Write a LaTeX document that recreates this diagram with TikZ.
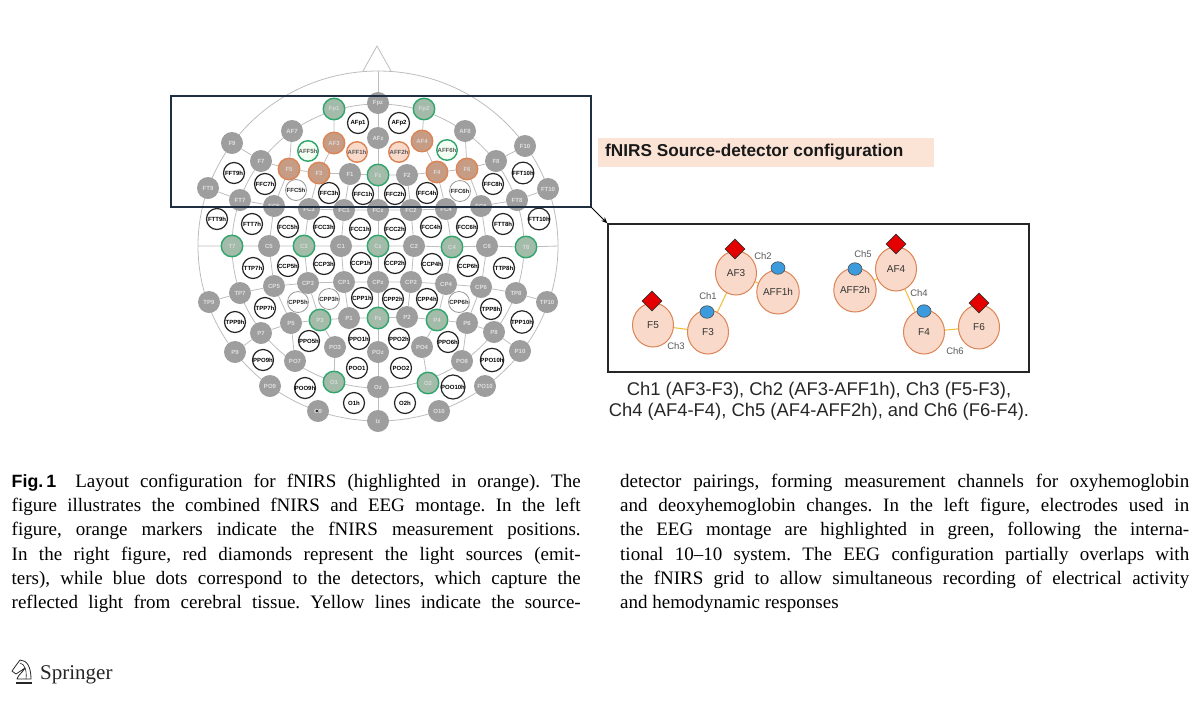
\documentclass[tikz,border=0pt]{standalone}
\usepackage{fontspec}
\setmainfont{Liberation Serif}
\setsansfont{Liberation Sans}
\usetikzlibrary{arrows.meta,backgrounds,shapes.geometric}

\definecolor{gridgray}{HTML}{BDBDBD}
\definecolor{elecgray}{HTML}{9E9E9E}
\definecolor{eegring}{HTML}{2FA56C}
\definecolor{eegfill}{HTML}{A3BBA9}
\definecolor{nirsring}{HTML}{DB8455}
\definecolor{nirsfill}{HTML}{C79C84}
\definecolor{peach}{HTML}{F9D9C9}
\definecolor{peachbar}{HTML}{FBE3D6}
\definecolor{yellowch}{HTML}{EFC13F}
\definecolor{bluedet}{HTML}{3B9BDD}
\definecolor{navybox}{HTML}{1F2F40}

\tikzset{
  elec/.style={circle, inner sep=0pt, minimum size=22pt, font=\sffamily\bfseries\fontsize{6}{7}\selectfont},
  grayelec/.style={elec, fill=elecgray, text=white!88!black},
  ringelec/.style={elec, draw=black!85, line width=1.2pt, fill=white, minimum size=21pt, text=black},
  thinelec/.style={elec, draw=black!40, line width=.8pt, fill=white, minimum size=21pt, text=black!85},
  greenelec/.style={elec, draw=eegring, line width=1.4pt, fill=eegfill, minimum size=21.5pt, text=white!85!black},
  palegreen/.style={elec, draw=eegring, line width=1.4pt, fill=green!5, minimum size=20.5pt, text=black!65},
  nirselec/.style={elec, draw=nirsring, line width=1.4pt, fill=nirsfill, minimum size=21.5pt, text=white!85!black},
  paleorange/.style={elec, draw=nirsring, line width=1.4pt, fill=peach, minimum size=20.5pt, text=black!65},
  gridline/.style={draw=gridgray, line width=.8pt},
  optode/.style={ellipse, draw=nirsring, line width=1pt, fill=peach, inner sep=0pt, minimum width=41pt, minimum height=44pt, text=black!80, font=\sffamily\fontsize{10}{12}\selectfont},
  source/.style={diamond, draw=black!80, line width=.6pt, fill=red!90!black, inner sep=0pt, minimum size=20pt},
  detector/.style={ellipse, draw=black!70, line width=.6pt, fill=bluedet, inner sep=0pt, minimum width=14pt, minimum height=12.5pt},
  chline/.style={draw=yellowch, line width=1.1pt},
  chlabel/.style={text=black!65, inner sep=0pt, font=\sffamily\fontsize{9.5}{11}\selectfont},
  capcol/.style={anchor=north west, align=left, inner sep=0pt, font=\fontsize{19}{24.2}\selectfont}
}
\newcommand{\jline}[1]{\makebox[569pt][s]{#1}}
\frenchspacing

\begin{document}
\begin{tikzpicture}[x=1pt, y=-1pt]
  \useasboundingbox (0,0) rectangle (1200,721);

  \foreach \n/\x/\y in {Fpz/378/103, AF7/292/131, AFz/378/138, F9/232/143, F7/261/161, F1/350/174,
    FT9/208/188, FT7/240/200, FC5/274/206, FC3/309/209, FC1/344/210, FCz/378/210,
    AF8/465/131, F10/525/146, F8/496/161, F2/407/175, FT10/548/189, FT8/517/200,
    FC6/481/206, FC4/446/209, FC2/411/210, C5/269/246, C1/341/246, C2/414/246, C6/487/246,
    CP5/274/286, CP3/308/283, CP1/344/282, CPz/378/282, TP7/240/293, TP9/209/302,
    CP2/411/282, CP4/446/284, CP6/481/287, TP8/516/293, TP10/547/302,
    P5/291/323, P1/349/318, P2/407/317, P6/467/323, P7/261/333, P8/494/332,
    PO3/335/347, POz/378/352, PO4/422/347, P9/235/352, P10/520/351,
    PO7/295/361, PO8/462/361, Oz/378/387, PO9/270/386, PO10/485/386,
    O9/318/411, O10/439/411, Iz/378/421}
    \node[grayelec] (\n) at (\x,\y) {\n};

  \foreach \n/\x/\y in {AFp1/358/123, AFp2/399/123, FFT9h/234/173, FFT10h/523/173,
    FFC7h/265/184, FFC3h/329/193, FFC1h/363/194, FFC2h/395/194, FFC4h/427/193, FFC8h/493/184,
    FTT9h/217/219, FTT7h/252/224, FCC5h/288/227, FCC3h/324/227, FCC1h/360/229,
    FCC2h/395/229, FCC4h/431/227, FCC6h/467/227, FTT8h/503/224, FTT10h/539/219,
    TTP7h/253/268, CCP5h/288/266, CCP3h/324/264, CCP1h/361/263,
    CCP2h/395/263, CCP4h/432/264, CCP6h/468/266, TTP8h/504/268,
    CPP1h/362/298, CPP2h/393/299, CPP4h/427/299, TPP7h/265/308, TPP8h/491/309,
    TPP9h/235/322, TPP10h/522/322, PPO5h/309/341, PPO1h/359/339, PPO2h/399/339, PPO6h/448/342,
    PPO9h/263/360, PPO10h/492/360, POO1/357/368, POO2/401/368,
    POO9h/305/388, POO10h/453/387, O1h/354/403, O2h/405/403}
    \node[ringelec] (\n) at (\x,\y) {\n};

  \foreach \n/\x/\y in {FFC5h/296/190, FFC6h/460/191, CPP5h/298/302, CPP3h/329/299, CPP6h/459/302}
    \node[thinelec] (\n) at (\x,\y) {\n};

  \foreach \n/\x/\y in {Fp1/334/109, Fp2/424/109, Fz/378/175, T7/232/246, C3/304/246, Cz/378/246,
    C4/452/247, T8/526/247, P3/320/320, Pz/378/318, P4/437/320, O1/334/382, O2/428/383}
    \node[greenelec] (\n) at (\x,\y) {\n};

  \foreach \n/\x/\y in {AF3/334/143, AF4/422/141, F5/289/169, F3/319/173, F4/437/172, F6/467/169}
    \node[nirselec] (\n) at (\x,\y) {\n};

  \node[palegreen] (AFF5h) at (308,151) {AFF5h};
  \node[palegreen] (AFF6h) at (447,150) {AFF6h};
  \node[paleorange] (AFF1h) at (357,152) {AFF1h};
  \node[paleorange] (AFF2h) at (399,152) {AFF2h};
  \fill[black] (O9.center) ++(-1,0) circle (1.2pt);

  \begin{pgfonlayer}{background}
    \draw[gridline] (Cz) ellipse [x radius=180pt, y radius=175pt];
    \draw[gridline] (Cz) ellipse [x radius=146pt, y radius=142pt];
    \coordinate (nosel) at (363,71);
    \coordinate (noser) at (391,71);
    \coordinate (nosetop) at (377,46);
    \draw[gridline] (nosel) -- (nosetop) -- (noser);
    \draw[gridline] (378,71) -- (Fpz) -- (AFz) -- (Fz) -- (FCz) -- (Cz) -- (CPz) -- (Pz) -- (POz) -- (Oz) -- (Iz);
    \draw[gridline] (F9) -- (F7) -- (F5) -- (F3) -- (F1) -- (Fz) -- (F2) -- (F4) -- (F6) -- (F8) -- (F10);
    \draw[gridline] (FT9) -- (FT7) -- (FC5) -- (FC3) -- (FC1) -- (FCz) -- (FC2) -- (FC4) -- (FC6) -- (FT8) -- (FT10);
    \draw[gridline] (198,246) -- (T7) -- (C5) -- (C3) -- (C1) -- (Cz) -- (C2) -- (C4) -- (C6) -- (T8) -- (558,246);
    \draw[gridline] (TP9) -- (TP7) -- (CP5) -- (CP3) -- (CP1) -- (CPz) -- (CP2) -- (CP4) -- (CP6) -- (TP8) -- (TP10);
    \draw[gridline] (P9) -- (P7) -- (P5) -- (P3) -- (P1) -- (Pz) -- (P2) -- (P4) -- (P6) -- (P8) -- (P10);
    \draw[gridline] (Fp1) -- (AF3) -- (F3) -- (FC3) -- (C3) -- (CP3) -- (P3) -- (PO3) -- (O1);
    \draw[gridline] (Fp2) -- (AF4) -- (F4) -- (FC4) -- (C4) -- (CP4) -- (P4) -- (PO4) -- (O2);
    \draw[gridline] (AF7) -- (F5) -- (FC5) -- (C5) -- (CP5) -- (P5) -- (PO7);
    \draw[gridline] (AF8) -- (F6) -- (FC6) -- (C6) -- (CP6) -- (P6) -- (PO8);
    \draw[gridline] (F1) -- (FC1) -- (C1) -- (CP1) -- (P1);
    \draw[gridline] (F2) -- (FC2) -- (C2) -- (CP2) -- (P2);
  \end{pgfonlayer}

  \draw[draw=navybox, line width=1.2pt] (171,96) rectangle (591,207);
  \coordinate (boxcorner) at (591,207);

  \node[fill=peachbar, minimum width=336pt, minimum height=29pt, inner sep=0pt] (titlebar) at (766,152.5) {};
  \node[anchor=west, inner sep=0pt, font=\sffamily\bfseries\fontsize{17.2}{20}\selectfont, text=black!90] (title) at (605,152.5) {fNIRS Source-detector configuration};

  \node[draw=black!85, line width=1.5pt, minimum width=421pt, minimum height=148pt, inner sep=0pt] (panel) at (818.5,298) {};
  \draw[-{Stealth[length=6pt,width=5pt]}, black, line width=.8pt] (boxcorner) -- (panel.north west);

  \foreach \n/\x/\y/\t in {rAFa/736/273/AF3, rAFFa/778/292/AFF1h, rFa/653/325/F5, rFb/708/332/F3,
    rAFb/896/269/AF4, rAFFb/855/290/AFF2h, rFc/924/332/F4, rFd/979/327/F6}
    \node[optode] (\n) at (\x,\y) {\t};

  \begin{pgfonlayer}{background}
    \foreach \a/\b in {rAFa/rFb, rAFa/rAFFa, rFa/rFb, rAFb/rFc, rAFb/rAFFb, rFc/rFd}
      \draw[chline] (\a) -- (\b);
  \end{pgfonlayer}

  \foreach \n/\x/\y in {srca/735/249, srcb/652/301, srcc/896/244, srcd/979/303}
    \node[source] (\n) at (\x,\y) {};
  \foreach \n/\x/\y in {deta/707/312, detb/778/268, detc/855/269, detd/924/311}
    \node[detector] (\n) at (\x,\y) {};

  \foreach \n/\x/\y/\t in {cha/708/296/Ch1, chb/763/256/Ch2, chc/676/346/Ch3,
    chd/919/293/Ch4, che/863/254/Ch5, chf/955/351/Ch6}
    \node[chlabel] (\n) at (\x,\y) {\t};

  \node[align=center, inner sep=0pt, text=black!85, font=\sffamily\fontsize{18.4}{21}\selectfont] (chlist) at (819,401)
    {Ch1 (AF3-F3), Ch2 (AF3-AFF1h), Ch3 (F5-F3),\\Ch4 (AF4-F4), Ch5 (AF4-AFF2h), and Ch6 (F6-F4).};

  \node[capcol] (capleft) at (11.5,474) {%
    \jline{{\sffamily\bfseries\fontsize{17.8}{24.2}\selectfont Fig.\,1}\hspace{8pt} Layout configuration for fNIRS (highlighted in orange). The}\\
    \jline{figure illustrates the combined fNIRS and EEG montage. In the left}\\
    \jline{figure, orange markers indicate the fNIRS measurement positions.}\\
    \jline{In the right figure, red diamonds represent the light sources (emit-}\\
    \jline{ters), while blue dots correspond to the detectors, which capture the}\\
    \jline{reflected light from cerebral tissue. Yellow lines indicate the source-}};
  \node[capcol] (capright) at (620,474) {%
    \jline{detector pairings, forming measurement channels for oxyhemoglobin}\\
    \jline{and deoxyhemoglobin changes. In the left figure, electrodes used in}\\
    \jline{the EEG montage are highlighted in green, following the interna-}\\
    \jline{tional 10--10 system. The EEG configuration partially overlaps with}\\
    \jline{the fNIRS grid to allow simultaneous recording of electrical activity}\\
    and hemodynamic responses};

  \draw[black!85, line width=.8pt, line join=round] (20,660) .. controls (27,660) and (31,667) .. (31,679)
    -- (17,679) .. controls (18,675) and (23,672) .. (25,668) -- (16,674) -- (12,671) -- (17,664) -- cycle;
  \draw[black!85, line width=.6pt] (20,663) .. controls (25,664) and (27,671) .. (26,679);
  \draw[black!85, line width=1.2pt] (16,683) -- (32,683);
  \node[anchor=west, inner sep=0pt, font=\fontsize{21}{24}\selectfont, text=black!85] (springer) at (40,674.5) {Springer};
\end{tikzpicture}
\end{document}
